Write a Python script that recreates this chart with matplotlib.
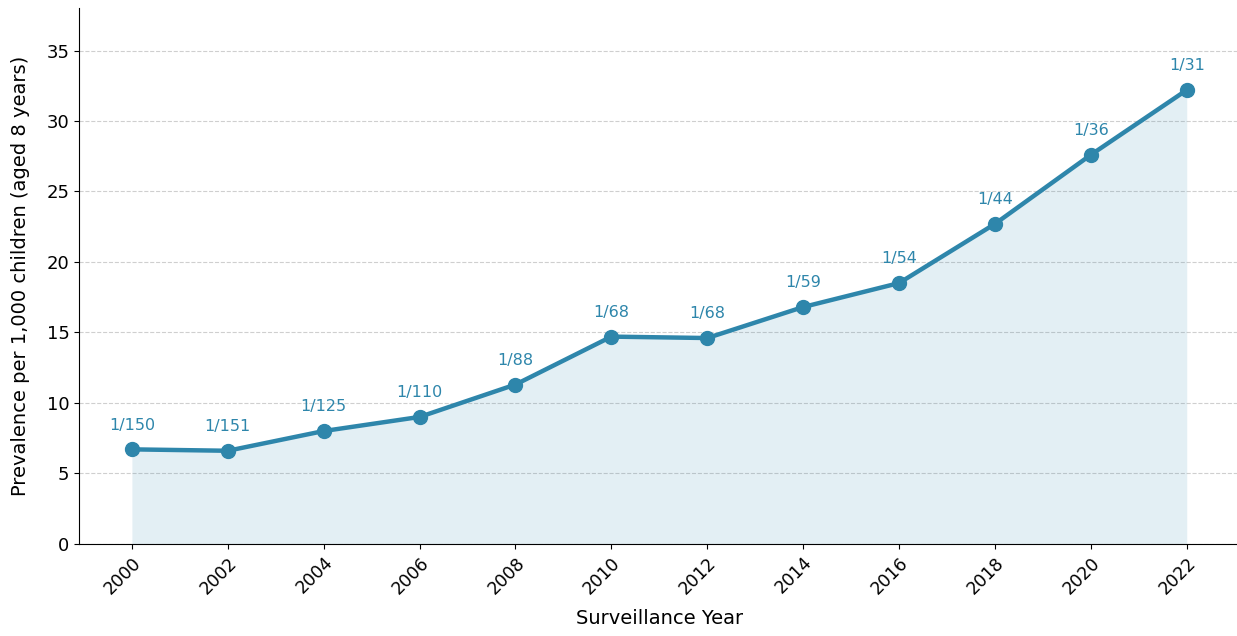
import matplotlib
matplotlib.use("Agg")
import matplotlib.pyplot as plt

# ADDM surveillance data
years = [2000, 2002, 2004, 2006, 2008, 2010, 2012, 2014, 2016, 2018, 2020, 2022]
prevalence = [6.7, 6.6, 8.0, 9.0, 11.3, 14.7, 14.6, 16.8, 18.5, 22.7, 27.6, 32.2]
ratio_labels = ["1/150", "1/151", "1/125", "1/110", "1/88", "1/68",
                "1/68", "1/59", "1/54", "1/44", "1/36", "1/31"]

COL = "#2E86AB"

fig = plt.figure(figsize=(12.37, 6.36), dpi=100)
# the axes runs slightly past the right edge, as in the cropped original
ax = fig.add_axes([0.064, 0.145, 0.938, 0.842])

ax.fill_between(years, prevalence, color=COL, alpha=0.13, linewidth=0)
ax.plot(years, prevalence, color=COL, linewidth=3.2, marker="o", markersize=10)

for x, y, lab in zip(years, prevalence, ratio_labels):
    ax.annotate(lab, (x, y), xytext=(0, 12), textcoords="offset points",
                ha="center", va="bottom", color=COL, fontsize=11.5)

ax.set_ylim(0, 38)
ax.set_xticks(years)
ax.set_xticklabels([str(y) for y in years], rotation=45, ha="right",
                   rotation_mode="anchor", fontsize=12.5)
ax.tick_params(axis="y", labelsize=13)
ax.set_xlabel("Surveillance Year", fontsize=14, labelpad=8)
ax.set_ylabel("Prevalence per 1,000 children (aged 8 years)", fontsize=14,
              labelpad=12)
ax.grid(axis="y", linestyle="--", alpha=0.6)
ax.set_axisbelow(True)
for s in ["top", "right"]:
    ax.spines[s].set_visible(False)

fig.savefig("out.png", dpi=100)
